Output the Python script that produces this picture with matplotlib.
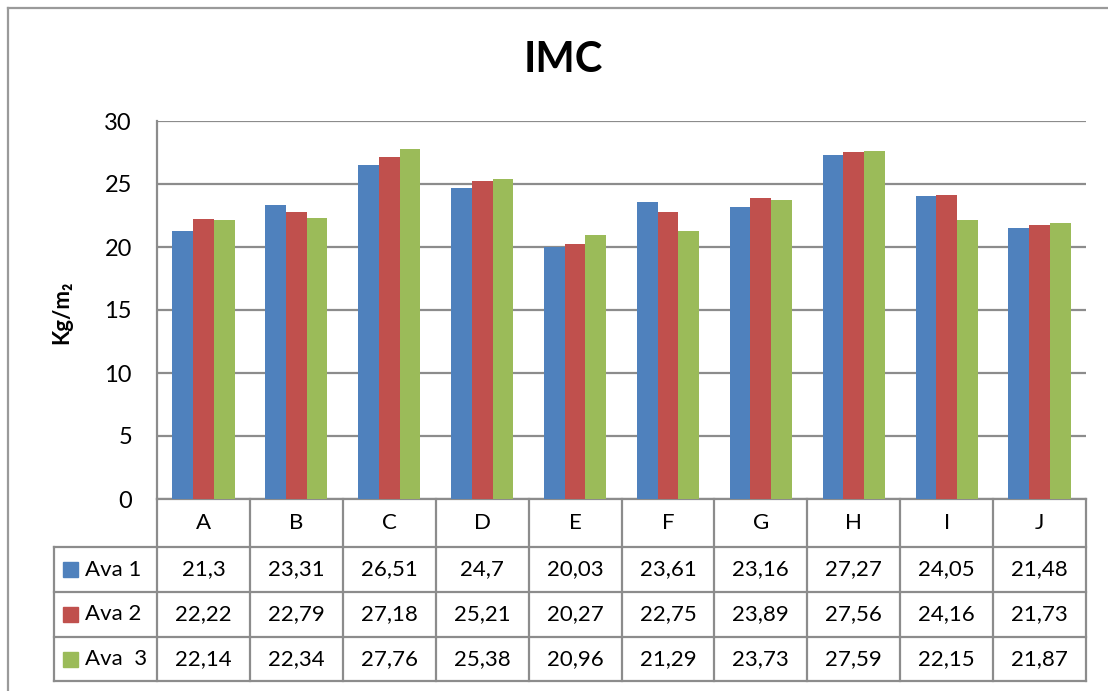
import numpy as np
import matplotlib.pyplot as plt
from matplotlib.patches import Rectangle
from matplotlib.lines import Line2D

plt.rcParams['font.family'] = ['Lato', 'DejaVu Sans']

categories = ["A", "B", "C", "D", "E", "F", "G", "H", "I", "J"]
ava1 = [21.3, 23.31, 26.51, 24.7, 20.03, 23.61, 23.16, 27.27, 24.05, 21.48]
ava2 = [22.22, 22.79, 27.18, 25.21, 20.27, 22.75, 23.89, 27.56, 24.16, 21.73]
ava3 = [22.14, 22.34, 27.76, 25.38, 20.96, 21.29, 23.73, 27.59, 22.15, 21.87]
series_names = ["Ava 1", "Ava 2", "Ava  3"]
colors = ["#4F81BD", "#C0504D", "#9BBB59"]

W, H = 1108, 691
fig = plt.figure(figsize=(W / 100, H / 100), dpi=100)
ax = fig.add_axes([157 / W, 1 - 499 / H, 929 / W, 378 / H])

x = np.arange(len(categories))
bw = 0.223
series = [ava1, ava2, ava3]
for k, vals in enumerate(series):
    ax.bar(x + (k - 1) * bw, vals, bw, color=colors[k], zorder=3)

ax.set_xlim(-0.5, len(categories) - 0.5)
ax.set_ylim(0, 30)
ax.set_yticks(range(0, 31, 5))
ax.set_xticks([])
ax.yaxis.grid(True, color="#8c8c8c", lw=1.6, zorder=0)
for s in ["top", "right", "bottom"]:
    ax.spines[s].set_visible(False)
ax.spines["left"].set_color("#8c8c8c")
ax.spines["left"].set_linewidth(1.6)
ax.tick_params(axis="y", length=0, pad=18, labelsize=17)

# data table under the axis
grid_c = "#8c8c8c"
tr = ax.get_xaxis_transform()
ax_h = 378.0
row_px = [0, 48, 93, 138, 182]  # row borders below axis, pixels
ys = [-p / ax_h for p in row_px]
lab_left = -0.5 - (157 - 54) / 929 * len(categories)
n = len(categories)

# horizontal lines
ax.plot([-0.5, n - 0.5], [ys[0], ys[0]], transform=tr, color=grid_c, lw=1.6, clip_on=False)
for yy in ys[1:]:
    ax.plot([lab_left, n - 0.5], [yy, yy], transform=tr, color=grid_c, lw=1.6, clip_on=False)
# vertical lines
for i in range(n + 1):
    ax.plot([i - 0.5, i - 0.5], [ys[0], ys[-1]], transform=tr, color=grid_c, lw=1.6, clip_on=False)
ax.plot([lab_left, lab_left], [ys[1], ys[-1]], transform=tr, color=grid_c, lw=1.6, clip_on=False)

for i, c in enumerate(categories):
    ax.text(i, (ys[0] + ys[1]) / 2, c, transform=tr, ha="center", va="center", fontsize=16)

for r, vals in enumerate(series):
    yc = (ys[r + 1] + ys[r + 2]) / 2
    for i, v in enumerate(vals):
        ax.text(i, yc, f"{v:g}".replace(".", ","), transform=tr, ha="center", va="center", fontsize=16)
    sq_x = lab_left + 9 / 929 * n
    sq_w = 15 / 929 * n
    sq_h = 15 / ax_h
    ax.add_patch(Rectangle((sq_x, yc - sq_h / 2), sq_w, sq_h, transform=tr,
                           color=colors[r], clip_on=False))
    ax.text(lab_left + 31 / 929 * n, yc, series_names[r], transform=tr,
            ha="left", va="center", fontsize=16)

# chart border
fig.add_artist(Line2D([8 / W, 8 / W], [0, 1 - 8 / H], color="#9a9a9a", lw=1.6))
fig.add_artist(Line2D([8 / W, 1], [1 - 8 / H, 1 - 8 / H], color="#9a9a9a", lw=1.6))

fig.text(563 / W, 1 - 60 / H, "IMC", ha="center", va="center", fontsize=30, fontweight="bold")
fig.text(62 / W, 1 - 312 / H, "Kg/m₂", ha="center", va="center", rotation=90,
         fontsize=16, fontweight="bold")

fig.savefig("out.png", dpi=100)
